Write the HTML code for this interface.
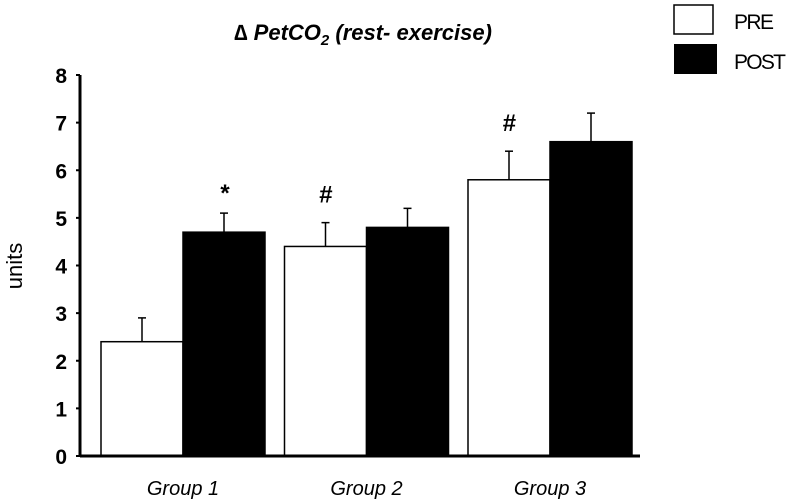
<!DOCTYPE html>
<html><head><meta charset="utf-8"><style>
html,body{margin:0;padding:0;background:#fff;}
svg{display:block;font-family:"Liberation Sans",Arial,sans-serif;}
</style></head><body>
<svg id="chart" width="792" height="504" viewBox="0 0 792 504">
<text x="363" y="40" text-anchor="middle" font-size="22" font-weight="bold" font-style="italic">∆ PetCO<tspan font-size="15" dy="5">2</tspan><tspan dy="-5"> (rest- exercise)</tspan></text>
<g>
<rect x="674" y="5" width="39" height="29" fill="#fff" stroke="#000" stroke-width="1.5"/>
<text x="734" y="29" font-size="21" textLength="40">PRE</text>
<rect x="674" y="44" width="43" height="30" fill="#000"/>
<text x="734" y="69" font-size="21" textLength="52">POST</text>
</g>
<text transform="translate(22,266) rotate(-90)" text-anchor="middle" font-size="22">units</text>
<g id="plot"></g>
</svg>
<script>
const categories = ["Group 1", "Group 2", "Group 3"];
const preValues = [2.4, 4.4, 5.8];
const postValues = [4.7, 4.8, 6.6];
const preErrors = [0.5, 0.5, 0.6];
const postErrors = [0.4, 0.4, 0.6];
const markers = ["*", "#", "#"];
const yTicks = [0, 1, 2, 3, 4, 5, 6, 7, 8];

const NS = "http://www.w3.org/2000/svg";
const plot = document.getElementById("plot");
const y0 = 456, yTop = 75, yMax = 8;
const yScale = v => y0 - v * (y0 - yTop) / yMax;
const axisX = 80, groupStart = 183, groupStep = 183.5, barW = 82;
const xCenter = i => groupStart + i * groupStep;
function mk(tag, attrs) { const e = document.createElementNS(NS, tag); for (const k in attrs) e.setAttribute(k, attrs[k]); plot.appendChild(e); return e; }

yTicks.forEach(t => {
  const y = yScale(t);
  const tk = mk("line", {x1: axisX - 4, x2: axisX, y1: y, y2: y, stroke: "#000", "stroke-width": 2});
  
  
  const lb = mk("text", {x: 67, y: y + 8, "text-anchor": "end", "font-size": 21, "font-weight": "bold"});
  lb.textContent = t;
  
  
});

categories.forEach((c, i) => {
  const cx = xCenter(i);
  [[preValues[i], preErrors[i], cx - barW, "#fff", "pre"], [postValues[i], postErrors[i], cx, "#000", "post"]].forEach(([v, e, x, fill, s]) => {
    const top = yScale(v);
    const eb = mk("line", {x1: x + barW / 2, x2: x + barW / 2, y1: top, y2: yScale(v + e), stroke: "#000", "stroke-width": 1.5});
    
    
    const cap = mk("line", {x1: x + barW / 2 - 4, x2: x + barW / 2 + 4, y1: yScale(v + e), y2: yScale(v + e), stroke: "#000", "stroke-width": 1.5});
    
    
    const r = mk("rect", {x: x, y: top, width: barW, height: y0 - top, fill: fill, stroke: "#000", "stroke-width": 1.5});
    
    
  });
  const m = mk("text", {x: cx - barW / 2, y: yScale(preValues[i] + preErrors[i]) - 20, "text-anchor": "middle", "font-size": 24, "font-style": "italic", "font-weight": "bold"});
  if (i === 0) { m.setAttribute("x", cx + barW / 2); m.setAttribute("y", yScale(postValues[i] + postErrors[i]) - 12); }
  m.textContent = markers[i];
  
  
  const gl = mk("text", {x: cx, y: 495, "text-anchor": "middle", "font-size": 20, "font-style": "italic"});
  gl.textContent = c;
  
  
});

const ax = mk("line", {x1: axisX, x2: axisX, y1: yTop, y2: y0, stroke: "#000", "stroke-width": 3});


const bx = mk("line", {x1: axisX, x2: 640, y1: y0, y2: y0, stroke: "#000", "stroke-width": 3});


</script>
</body></html>
